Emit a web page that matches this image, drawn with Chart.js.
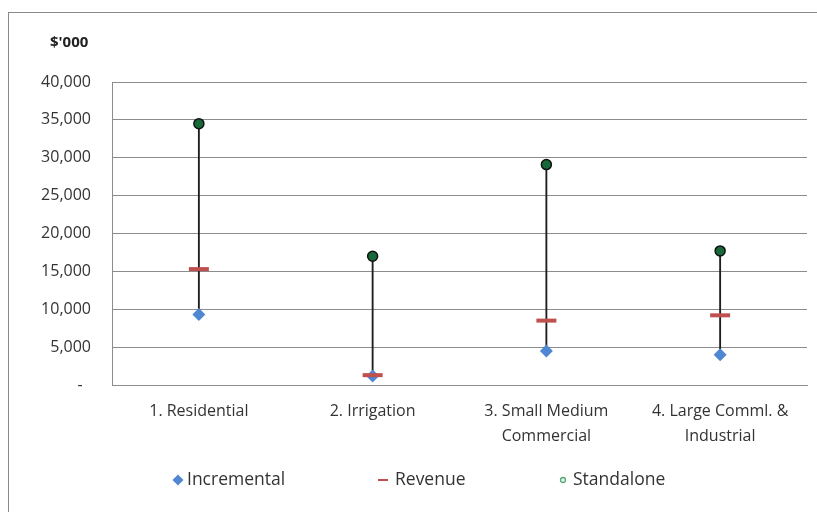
<!DOCTYPE html>
<html>
<head>
<meta charset="utf-8">
<script src="https://cdn.jsdelivr.net/npm/chart.js@4/dist/chart.umd.min.js"></script>
<style>
  html, body { margin: 0; padding: 0; background: #fff; }
  #wrap { position: relative; width: 817px; height: 512px; }
</style>
</head>
<body>
<div id="wrap"><canvas id="c" width="817" height="512"></canvas></div>
<script>
// Customer classes and cost/revenue figures ($'000)
const categories = [
  ['1. Residential'],
  ['2. Irrigation'],
  ['3. Small Medium', 'Commercial'],
  ['4. Large Comml. &', 'Industrial']
];
const incremental = [9300, 1200, 4500, 4000];
const revenue     = [15300, 1300, 8500, 9200];
const standalone  = [34500, 17000, 29100, 17700];
const yMin = 0, yMax = 40000, yStep = 5000;
const unitLabel = "$'000";

const FONT = "'Open Sans', 'DejaVu Sans', sans-serif";
const GRID = '#8c8c8c';
const TEXT = '#333333';

// Frame around the whole chart plus the unit caption above the value axis
const framePlugin = {
  id: 'frame',
  beforeDraw(chart) {
    const ctx = chart.ctx;
    ctx.save();
    ctx.fillStyle = '#fff';
    ctx.fillRect(0, 0, chart.width, chart.height);
    ctx.strokeStyle = '#8a8a8a';
    ctx.lineWidth = 1;
    ctx.strokeRect(8.5, 12.5, chart.width + 20, chart.height + 20);
    ctx.font = "bold 15px " + FONT;
    ctx.fillStyle = '#222';
    ctx.textAlign = 'left';
    ctx.textBaseline = 'middle';
    ctx.fillText(unitLabel, 50, 43);
    ctx.restore();
  }
};

// Legend row: a marker drawn in each series' style, then its name
const legendPlugin = {
  id: 'markerLegend',
  afterDraw(chart) {
    const ctx = chart.ctx;
    const y = 480;
    const slots = [
      { marker: 178, text: 187 },
      { marker: 383, text: 395 },
      { marker: 563, text: 573 }
    ];
    const items = chart.data.datasets
      .filter(d => d.legendKind)
      .sort((a, b) => a.legendOrder - b.legendOrder);
    ctx.save();
    ctx.font = "17.5px " + FONT;
    ctx.textBaseline = 'middle';
    ctx.textAlign = 'left';
    items.forEach((d, i) => {
      const s = slots[i];
      ctx.beginPath();
      if (d.legendKind === 'diamond') {
        ctx.fillStyle = d.backgroundColor;
        ctx.moveTo(s.marker, y - 5.5);
        ctx.lineTo(s.marker + 5.5, y);
        ctx.lineTo(s.marker, y + 5.5);
        ctx.lineTo(s.marker - 5.5, y);
        ctx.closePath();
        ctx.fill();
      } else if (d.legendKind === 'dash') {
        ctx.fillStyle = d.borderColor;
        ctx.fillRect(s.marker - 5, y - 1, 10, 2);
      } else {
        ctx.arc(s.marker, y, 2.5, 0, Math.PI * 2);
        ctx.fillStyle = '#e3f3e8';
        ctx.fill();
        ctx.lineWidth = 1.3;
        ctx.strokeStyle = '#5aa874';
        ctx.stroke();
      }
      ctx.fillStyle = TEXT;
      ctx.fillText(d.label, s.text, y);
    });
    ctx.restore();
  }
};

new Chart(document.getElementById('c'), {
  type: 'bar',
  data: {
    labels: categories,
    datasets: [
      {
        type: 'bar',
        label: 'range',
        data: incremental.map((v, i) => [v, standalone[i]]),
        backgroundColor: '#1e1e1e',
        barThickness: 1.2,
        grouped: false,
        order: 3
      },
      {
        type: 'line',
        label: 'Incremental',
        legendKind: 'diamond',
        legendOrder: 0,
        data: incremental,
        showLine: false,
        pointStyle: 'rectRot',
        pointRadius: 6.5,
        pointBackgroundColor: '#4F87D2',
        pointBorderWidth: 0,
        backgroundColor: '#4F87D2',
        order: 2
      },
      {
        type: 'line',
        label: 'Revenue',
        legendKind: 'dash',
        legendOrder: 1,
        data: revenue,
        showLine: false,
        pointStyle: 'line',
        pointRadius: 10,
        pointBorderWidth: 4,
        pointBorderColor: '#C0504D',
        borderColor: '#C0504D',
        order: 1
      },
      {
        type: 'line',
        label: 'Standalone',
        legendKind: 'dot',
        legendOrder: 2,
        data: standalone,
        showLine: false,
        pointStyle: 'circle',
        pointRadius: 5,
        pointBackgroundColor: '#17693a',
        pointBorderColor: '#111',
        pointBorderWidth: 1.5,
        backgroundColor: '#17693a',
        order: 0
      }
    ]
  },
  options: {
    responsive: false,
    animation: false,
    devicePixelRatio: 1,
    layout: { autoPadding: false, padding: { left: 0, right: 10, top: 82, bottom: 0 } },
    plugins: {
      legend: { display: false },
      tooltip: { enabled: false },
      title: { display: false }
    },
    scales: {
      x: {
        grid: { display: false, drawTicks: false },
        border: { display: true, color: GRID, width: 1 },
        ticks: {
          color: TEXT,
          padding: 14,
          maxRotation: 0,
          autoSkip: false,
          font: { family: FONT, size: 16, lineHeight: 1.55 }
        },
        afterFit(scale) {
          scale.height = 127;
          scale.paddingLeft = 0;
          scale.paddingRight = 0;
        }
      },
      y: {
        min: yMin,
        max: yMax,
        grid: { color: GRID, lineWidth: 1, drawTicks: false },
        border: { display: true, color: GRID, width: 1 },
        ticks: {
          stepSize: yStep,
          color: TEXT,
          padding: 21,
          font: { family: FONT, size: 16 },
          callback: v => v === 0 ? '-  ' : v.toLocaleString('en-US')
        },
        afterFit(scale) { scale.width = 112; }
      }
    }
  },
  plugins: [framePlugin, legendPlugin]
});
</script>
</body>
</html>
